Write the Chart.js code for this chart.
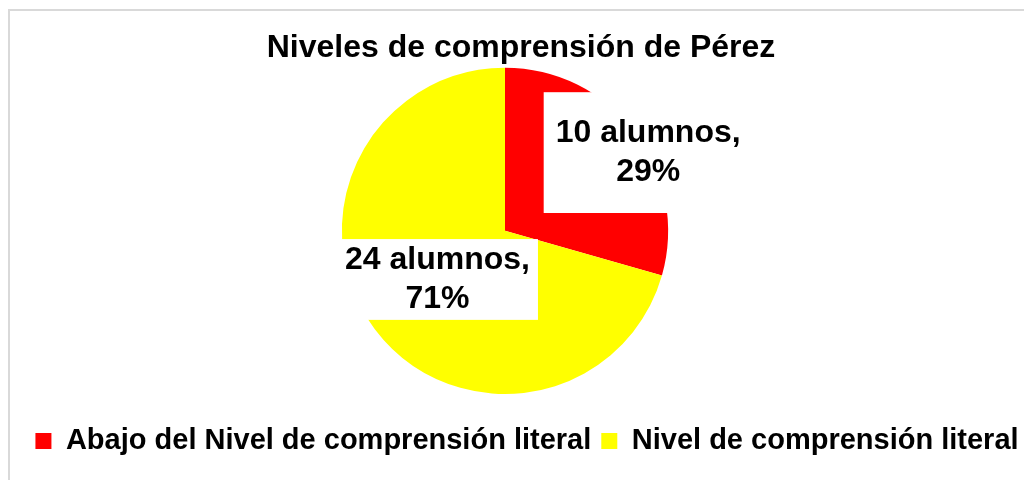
<!DOCTYPE html>
<html>
<head>
<meta charset="utf-8">
<script src="https://cdn.jsdelivr.net/npm/chart.js@4.4.1/dist/chart.umd.min.js"></script>
<style>
  html, body { margin: 0; padding: 0; background: #fff; }
  #wrap { position: relative; width: 1024px; height: 480px; overflow: hidden; }
  #frame { position: absolute; left: 8px; top: 9px; width: 1100px; height: 600px; border: 2px solid #d9d9d9; }
  #c { position: absolute; left: 0; top: 0; }
</style>
</head>
<body>
<div id="wrap"><div id="frame"></div><canvas id="c" width="1024" height="480"></canvas></div>
<script>
const titleText = "Niveles de comprensión de Pérez";
const categories = ["Abajo del Nivel de comprensión literal", "Nivel de comprensión literal"];
const alumnos = [10, 24];
const unitLabel = "alumnos";
const sliceColors = ["#ff0000", "#ffff00"];

// where each data label sits: fraction of radius, angle shift (deg), box padding
const labelPlace = [
  { r: 1.0, shift: 8.4, padX: 12, padY: 22 },
  { r: 0.51, shift: 1.3, padX: 8, padY: 2 }
];

const fontFamily = '"Liberation Sans", Arial, sans-serif';
Chart.defaults.font.family = fontFamily;
Chart.defaults.color = "#000";

// white boxed labels "N alumnos, P%"
const sliceLabels = {
  id: "sliceLabels",
  afterDatasetsDraw(chart) {
    const ctx = chart.ctx;
    const meta = chart.getDatasetMeta(0);
    const total = alumnos.reduce((a, b) => a + b, 0);
    const lh = 38.4;
    ctx.save();
    ctx.font = "bold 32px " + fontFamily;
    ctx.textAlign = "center";
    ctx.textBaseline = "middle";
    meta.data.forEach((arc, i) => {
      const p = arc.getProps(["x", "y", "startAngle", "endAngle", "outerRadius"], true);
      const place = labelPlace[i];
      const a = (p.startAngle + p.endAngle) / 2 + place.shift * Math.PI / 180;
      const cx = p.x + Math.cos(a) * p.outerRadius * place.r;
      const cy = p.y + Math.sin(a) * p.outerRadius * place.r;
      const lines = [alumnos[i] + " " + unitLabel + ",", Math.round(alumnos[i] / total * 100) + "%"];
      const w = Math.max(...lines.map(l => ctx.measureText(l).width)) + place.padX * 2;
      const h = lines.length * lh + place.padY * 2;
      ctx.fillStyle = "#fff";
      ctx.fillRect(cx - w / 2, cy - h / 2, w, h);
      ctx.fillStyle = "#000";
      lines.forEach((l, k) => {
        ctx.fillText(l, cx, cy - lh / 2 * (lines.length - 1) + k * lh);
      });
    });
    ctx.restore();
  }
};

// legend and title sit a bit right of the pie centre
const boxShift = {
  id: "boxShift",
  afterLayout(chart) {
    chart.legend.left += 22;
    chart.legend.right += 22;
    chart.titleBlock.left += 16;
    chart.titleBlock.right += 16;
  }
};

new Chart(document.getElementById("c"), {
  type: "pie",
  data: {
    labels: categories,
    datasets: [{
      data: alumnos,
      backgroundColor: sliceColors,
      borderColor: sliceColors,
      borderWidth: 0
    }]
  },
  options: {
    responsive: false,
    animation: false,
    layout: { padding: { left: 0, right: 14, top: 0, bottom: 14.5 } },
    plugins: {
      title: {
        display: true,
        text: titleText,
        color: "#000",
        font: { size: 32, weight: "bold" },
        padding: { top: 29.3, bottom: 0 }
      },
      legend: {
        position: "bottom",
        title: { display: true, text: " ", font: { size: 10, lineHeight: 1 }, padding: { top: 12.5, bottom: 0 } },
        labels: {
          boxWidth: 16,
          boxHeight: 16,
          padding: 10,
          color: "#000",
          font: { size: 29, weight: "bold" }
        }
      },
      tooltip: { enabled: false }
    }
  },
  plugins: [sliceLabels, boxShift]
});
</script>
</body>
</html>
